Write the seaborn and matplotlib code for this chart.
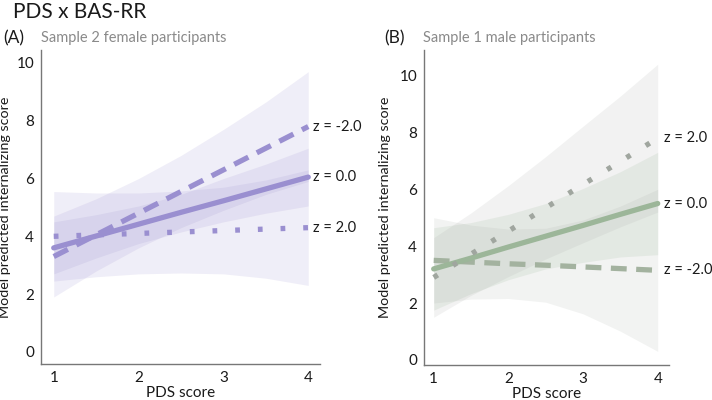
import pandas as pd
import numpy as np
import matplotlib
matplotlib.use("Agg")
import matplotlib.pyplot as plt
import seaborn as sns

# x grid (PDS score)
pds = [1.0, 1.5, 2.0, 2.5, 3.0, 3.5, 4.0]
z_levels = ["z = -2.0", "z = 0.0", "z = 2.0"]

# (A) sample 2 female participants
a_line_m2 = [3.3, 4.05, 4.8, 5.55, 6.3, 7.05, 7.8]
a_low_m2 = [1.9, 2.8, 3.6, 4.3, 4.9, 5.45, 5.9]
a_up_m2 = [4.7, 5.3, 6.0, 6.8, 7.7, 8.65, 9.7]
a_line_0 = [3.6, 4.01, 4.42, 4.83, 5.23, 5.64, 6.05]
a_low_0 = [2.7, 3.25, 3.75, 4.15, 4.5, 4.8, 5.05]
a_up_0 = [4.5, 4.75, 5.05, 5.45, 6.0, 6.5, 7.05]
a_line_p2 = [4.0, 4.05, 4.1, 4.15, 4.2, 4.25, 4.3]
a_low_p2 = [2.45, 2.6, 2.7, 2.73, 2.7, 2.55, 2.3]
a_up_p2 = [5.55, 5.5, 5.5, 5.57, 5.7, 5.95, 6.3]

# (B) sample 1 male participants
b_line_m2 = [3.5, 3.44, 3.38, 3.33, 3.27, 3.21, 3.15]
b_low_m2 = [2.0, 2.14, 2.16, 2.03, 1.62, 1.01, 0.3]
b_up_m2 = [5.0, 4.74, 4.6, 4.63, 4.92, 5.41, 6.0]
b_line_0 = [3.2, 3.58, 3.97, 4.35, 4.73, 5.12, 5.5]
b_low_0 = [1.75, 2.33, 2.82, 3.2, 3.43, 3.62, 3.7]
b_up_0 = [4.65, 4.83, 5.12, 5.5, 6.03, 6.62, 7.3]
b_line_p2 = [2.9, 3.72, 4.53, 5.35, 6.17, 6.98, 7.8]
b_low_p2 = [1.5, 2.27, 2.93, 3.55, 4.12, 4.68, 5.2]
b_up_p2 = [4.3, 5.17, 6.13, 7.15, 8.22, 9.28, 10.4]

sns.set_style("white")
plt.rcParams["font.family"] = ["Lato", "DejaVu Sans"]

dash_map = {"z = -2.0": (3.0, 1.8), "z = 0.0": "", "z = 2.0": (0.9, 3.4)}


def long_df(lines):
    rows = []
    for lab, vals in zip(z_levels, lines):
        for x, y in zip(pds, vals):
            rows.append({"pds": x, "pred": y, "z": lab})
    return pd.DataFrame(rows)


def draw_panel(ax, lines, lows, ups, line_cols, band_cols, label_x, ylab_x):
    for lo, up, c in zip(lows, ups, band_cols):
        ax.fill_between(pds, lo, up, color=c, alpha=0.15, lw=0)
    df = long_df(lines)
    sns.lineplot(data=df, x="pds", y="pred", style="z", hue="z",
                 palette=dict(zip(z_levels, line_cols)),
                 dashes=dash_map, lw=3.8, legend=False, ax=ax)
    for lab, vals in zip(z_levels, lines):
        ax.text(label_x, vals[-1], lab, fontsize=10.5, va="center", ha="left",
                color="#1a1a1a", clip_on=False)
    ax.set_xticks([1, 2, 3, 4])
    ax.set_yticks([0, 2, 4, 6, 8, 10])
    sns.despine(ax=ax)
    for s in ["left", "bottom"]:
        ax.spines[s].set_color("#777777")
        ax.spines[s].set_linewidth(1.0)
    ax.tick_params(axis="both", labelsize=11, colors="#1a1a1a", length=2,
                   width=0.8, pad=3)
    ax.tick_params(axis="both", which="major", color="#777777")
    ax.set_xlabel("PDS score", fontsize=11, color="#1a1a1a", labelpad=1)
    ax.set_ylabel("Model predicted internalizing score", fontsize=10.3,
                  color="#1a1a1a")
    ax.yaxis.set_label_coords(ylab_x, 0.5)


fig = plt.figure(figsize=(7.12, 4.0), dpi=100)
ax1 = fig.add_axes([0.0576, 0.09, 0.392, 0.785])
ax2 = fig.add_axes([0.5955, 0.0875, 0.344, 0.7875])

purple = "#9a8fd0"
draw_panel(ax1,
           [a_line_m2, a_line_0, a_line_p2],
           [a_low_m2, a_low_0, a_low_p2],
           [a_up_m2, a_up_0, a_up_p2],
           [purple, purple, purple],
           [purple, purple, purple],
           4.06, -0.108)
ax1.set_xlim(0.85, 4.14)
ax1.set_ylim(-0.42, 10.45)

draw_panel(ax2,
           [b_line_m2, b_line_0, b_line_p2],
           [b_low_m2, b_low_0, b_low_p2],
           [b_up_m2, b_up_0, b_up_p2],
           ["#a3b29f", "#9cb699", "#a0a69f"],
           ["#a9afa8", "#93b090", "#a9aca8"],
           4.08, -0.135)
ax2.set_xlim(0.87, 4.15)
ax2.set_ylim(-0.18, 10.9)

fig.text(0.018, 0.97, "PDS x BAS-RR", fontsize=15, color="#1a1a1a",
         va="center", ha="left")
fig.text(0.004, 0.905, "(A)", fontsize=12.5, color="#1a1a1a", va="center")
fig.text(0.057, 0.905, "Sample 2 female participants", fontsize=10.5,
         color="#8a8a8a", va="center")
fig.text(0.539, 0.905, "(B)", fontsize=12.5, color="#1a1a1a", va="center")
fig.text(0.594, 0.905, "Sample 1 male participants", fontsize=10.5,
         color="#8a8a8a", va="center")

fig.savefig("out.png", dpi=100)
